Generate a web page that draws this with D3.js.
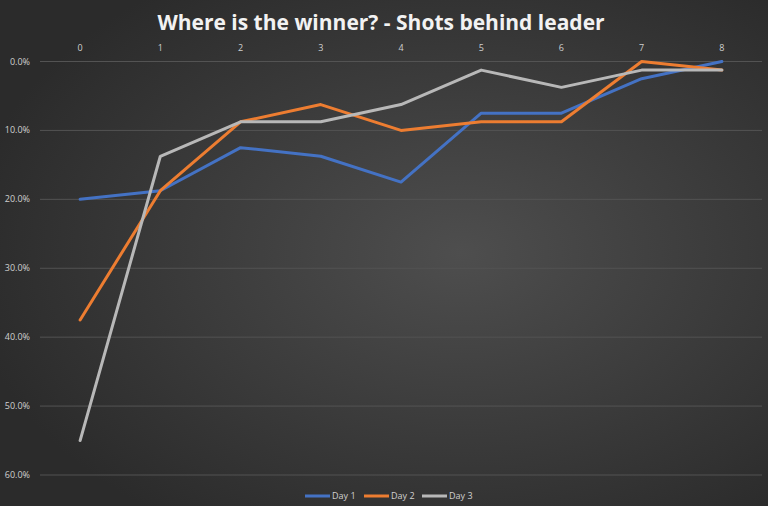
<!DOCTYPE html>
<html>
<head>
<meta charset="utf-8">
<script src="https://cdn.jsdelivr.net/npm/d3@7"></script>
<style>
  html, body { margin: 0; padding: 0; background: #333; }
  svg { display: block; font-family: "Open Sans", "Liberation Sans", sans-serif; }
</style>
</head>
<body>
<svg width="768" height="506"></svg>
<script>
// data: share of field, shots behind leader
const rounds = [0, 1, 2, 3, 4, 5, 6, 7, 8];
const day1 = [0.2, 0.1875, 0.125, 0.1375, 0.175, 0.075, 0.075, 0.025, 0];
const day2 = [0.375, 0.1875, 0.0875, 0.0625, 0.1, 0.0875, 0.0875, 0, 0.0125];
const day3 = [0.55, 0.1375, 0.0875, 0.0875, 0.0625, 0.0125, 0.0375, 0.0125, 0.0125];
const seriesNames = ["Day 1", "Day 2", "Day 3"];
const yTicks = [0, 0.1, 0.2, 0.3, 0.4, 0.5, 0.6];

const svg = d3.select("svg"),
      width = 768,
      height = 506;

const defs = svg.append("defs");
const grad = defs.append("radialGradient")
    .attr("id", "bg")
    .attr("cx", "60%").attr("cy", "50%").attr("r", "65%");
grad.append("stop").attr("offset", "0%").attr("stop-color", "#4e4e4e");
grad.append("stop").attr("offset", "100%").attr("stop-color", "#2b2b2b");

svg.append("rect")
    .attr("width", width)
    .attr("height", height)
    .attr("fill", "url(#bg)");

const margin = {top: 61.5, right: 6, bottom: 31, left: 40};

const x = d3.scalePoint()
    .domain(rounds)
    .range([margin.left, width - margin.right])
    .padding(0.5);

const y = d3.scaleLinear()
    .domain([0, 0.6])
    .range([margin.top, height - margin.bottom]);

// gridlines
svg.append("g")
    .selectAll("line")
    .data(yTicks)
    .enter().append("line")
    .attr("x1", margin.left)
    .attr("x2", width - margin.right)
    .attr("y1", d => y(d))
    .attr("y2", d => y(d))
    .attr("stroke", "#535353")
    .attr("stroke-width", 1);

// y labels
svg.append("g")
    .selectAll("text")
    .data(yTicks)
    .enter().append("text")
    .attr("x", 30)
    .attr("y", d => y(d) + 3)
    .attr("text-anchor", "end")
    .attr("font-size", 9)
    .attr("fill", "#d0d0d0")
    .text(d => d3.format(".1%")(d));

// x labels (top)
svg.append("g")
    .selectAll("text")
    .data(rounds)
    .enter().append("text")
    .attr("x", d => x(d))
    .attr("y", 51)
    .attr("text-anchor", "middle")
    .attr("font-size", 9)
    .attr("fill", "#d0d0d0")
    .text(d => d);

// title
svg.append("text")
    .attr("x", 381)
    .attr("y", 30)
    .attr("text-anchor", "middle")
    .attr("font-size", 21)
    .attr("font-weight", "bold")
    .attr("fill", "#f2f2f2")
    .text("Where is the winner? - Shots behind leader");

const color = d3.scaleOrdinal()
    .domain(seriesNames)
    .range(["#4472c4", "#ed7d31", "#b8b8b8"]);

const series = [day1, day2, day3].map((vals, i) => ({name: seriesNames[i], values: vals}));

const line = d3.line()
    .x((d, i) => x(rounds[i]))
    .y(d => y(d));

svg.append("g")
    .selectAll("path")
    .data(series)
    .enter().append("path")
    .attr("fill", "none")
    .attr("stroke", d => color(d.name))
    .attr("stroke-width", 3)
    .attr("stroke-linejoin", "round")
    .attr("stroke-linecap", "round")
    .attr("d", d => line(d.values));

// legend
const legendX = [305, 364, 422];
const legend = svg.append("g")
    .selectAll("g")
    .data(series)
    .enter().append("g")
    .attr("transform", (d, i) => `translate(${legendX[i]},496)`);

legend.append("line")
    .attr("x1", 0).attr("x2", 25)
    .attr("stroke", d => color(d.name))
    .attr("stroke-width", 3);

legend.append("text")
    .attr("x", 27)
    .attr("y", 3)
    .attr("font-size", 9)
    .attr("fill", "#d0d0d0")
    .text(d => d.name);
</script>
</body>
</html>
